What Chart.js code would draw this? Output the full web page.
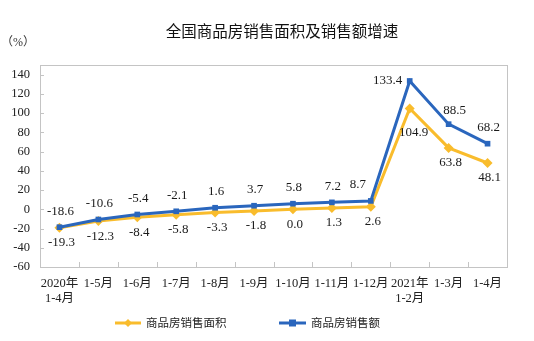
<!DOCTYPE html>
<html>
<head>
<meta charset="utf-8">
<script src="https://cdn.jsdelivr.net/npm/chart.js@4"></script>
<style>
  html, body { margin: 0; padding: 0; background: #fff; }
  #wrap { width: 534px; height: 341px; position: relative; }
</style>
</head>
<body>
<div id="wrap"><canvas id="c" width="534" height="341"></canvas></div>
<script>
// Periods (cumulative months)
const categories = [
  ['2020年', '1-4月'], '1-5月', '1-6月', '1-7月', '1-8月', '1-9月',
  '1-10月', '1-11月', '1-12月', ['2021年', '1-2月'], '1-3月', '1-4月'
];
// Year-on-year growth, %
const areaGrowth  = [-19.3, -12.3, -8.4, -5.8, -3.3, -1.8, 0.0, 1.3, 2.6, 104.9, 63.8, 48.1];
const salesGrowth = [-18.6, -10.6, -5.4, -2.1, 1.6, 3.7, 5.8, 7.2, 8.7, 133.4, 88.5, 68.2];
const yTicks = [-60, -40, -20, 0, 20, 40, 60, 80, 100, 120, 140];

const titleText = '全国商品房销售面积及销售额增速';
const unitText = '（%）';
const areaName = '商品房销售面积';
const salesName = '商品房销售额';

const YELLOW = '#F9BC2C';
const BLUE = '#2A66BD';
const SERIF = '"Liberation Serif", "Times New Roman", "Noto Sans CJK SC", serif';

// label placement per point: [dx, dy] from the point centre
const areaLabelShift  = areaGrowth.map((v, i) => i === 9 ? [4, 24] : [2, 15]);
const salesLabelShift = salesGrowth.map((v, i) => {
  if (i === 9) return [-22, 0];
  if (i === 10) return [6, -14];
  if (i === 8) return [-13, -16];
  return [1, -16];
});

const decor = {
  id: 'decor',
  beforeDatasetsDraw(chart) {
    const { ctx, chartArea: a, scales } = chart;
    ctx.save();
    // plot frame
    ctx.strokeStyle = '#c4c4c4';
    ctx.lineWidth = 1;
    ctx.strokeRect(Math.round(a.left) + 0.5, Math.round(a.top) + 0.5,
                   Math.round(a.right - a.left), Math.round(a.bottom - a.top));
    // inner ticks on the value axis
    scales.y.ticks.forEach(t => {
      const y = Math.round(scales.y.getPixelForValue(t.value)) + 0.5;
      ctx.beginPath();
      ctx.moveTo(a.left, y);
      ctx.lineTo(a.left + 4, y);
      ctx.stroke();
    });
    // inner ticks between categories
    for (let i = 1; i < categories.length; i++) {
      const x = Math.round((scales.x.getPixelForValue(i - 1) + scales.x.getPixelForValue(i)) / 2) + 0.5;
      ctx.beginPath();
      ctx.moveTo(x, a.bottom);
      ctx.lineTo(x, a.bottom - 5);
      ctx.stroke();
    }
    ctx.restore();
  },
  afterDatasetsDraw(chart) {
    const { ctx } = chart;
    ctx.save();
    ctx.fillStyle = '#1a1a1a';
    ctx.font = '13px ' + SERIF;
    ctx.textAlign = 'center';
    ctx.textBaseline = 'middle';
    const drawLabels = (dsIndex, values, shifts) => {
      const meta = chart.getDatasetMeta(dsIndex);
      meta.data.forEach((pt, i) => {
        const [dx, dy] = shifts[i];
        ctx.fillText(values[i].toFixed(1), pt.x + dx, pt.y + dy);
      });
    };
    drawLabels(0, salesGrowth, salesLabelShift);
    drawLabels(1, areaGrowth, areaLabelShift);

    // title and unit
    ctx.font = '15.5px "Noto Sans CJK SC", sans-serif';
    ctx.fillStyle = '#111';
    ctx.fillText(titleText, 282, 31);
    ctx.font = '12px ' + SERIF;
    ctx.fillStyle = '#333';
    ctx.fillText(unitText, 18, 43);

    // legend
    const legendY = 323;
    const items = [
      { x0: 115, x1: 141, color: YELLOW, shape: 'diamond', text: areaName, tx: 146 },
      { x0: 279, x1: 306, color: BLUE, shape: 'square', text: salesName, tx: 311 }
    ];
    items.forEach(it => {
      ctx.strokeStyle = it.color;
      ctx.fillStyle = it.color;
      ctx.lineWidth = 3;
      ctx.beginPath();
      ctx.moveTo(it.x0, legendY);
      ctx.lineTo(it.x1, legendY);
      ctx.stroke();
      const cx = (it.x0 + it.x1) / 2;
      ctx.beginPath();
      if (it.shape === 'diamond') {
        ctx.moveTo(cx, legendY - 4); ctx.lineTo(cx + 4, legendY);
        ctx.lineTo(cx, legendY + 4); ctx.lineTo(cx - 4, legendY);
        ctx.closePath();
      } else {
        ctx.rect(cx - 3.5, legendY - 3.5, 7, 7);
      }
      ctx.fill();
      ctx.fillStyle = '#222';
      ctx.font = '11.5px "Noto Sans CJK SC", sans-serif';
      ctx.textAlign = 'left';
      ctx.fillText(it.text, it.tx, legendY);
    });
    ctx.restore();
  }
};

new Chart(document.getElementById('c'), {
  type: 'line',
  data: {
    labels: categories,
    datasets: [
      {
        label: salesName,
        data: salesGrowth,
        borderColor: BLUE,
        backgroundColor: BLUE,
        borderWidth: 3,
        pointStyle: 'rect',
        pointRadius: 4,
        pointBorderWidth: 0,
        tension: 0,
        order: 0
      },
      {
        label: areaName,
        data: areaGrowth,
        borderColor: YELLOW,
        backgroundColor: YELLOW,
        borderWidth: 3,
        pointStyle: 'rectRot',
        pointRadius: 5,
        pointBorderWidth: 0,
        tension: 0,
        order: 1
      }
    ]
  },
  options: {
    responsive: false,
    animation: false,
    devicePixelRatio: 1,
    layout: { padding: { top: 65, right: 27, left: 0, bottom: 0 } },
    plugins: {
      legend: { display: false },
      title: { display: false },
      tooltip: { enabled: false }
    },
    scales: {
      x: {
        offset: true,
        grid: { display: false, drawTicks: false },
        border: { display: false },
        ticks: {
          color: '#222',
          font: { family: SERIF, size: 12.5 },
          padding: 9,
          maxRotation: 0,
          autoSkip: false
        },
        afterFit(scale) { scale.height = 74; }
      },
      y: {
        min: -60,
        max: 150,
        grid: { display: false, drawTicks: false },
        border: { display: false },
        afterBuildTicks(scale) { scale.ticks = yTicks.map(v => ({ value: v })); },
        ticks: {
          color: '#222',
          font: { family: SERIF, size: 12.5 },
          padding: 10
        },
        afterFit(scale) { scale.width = 40; }
      }
    }
  },
  plugins: [decor]
});
</script>
</body>
</html>
